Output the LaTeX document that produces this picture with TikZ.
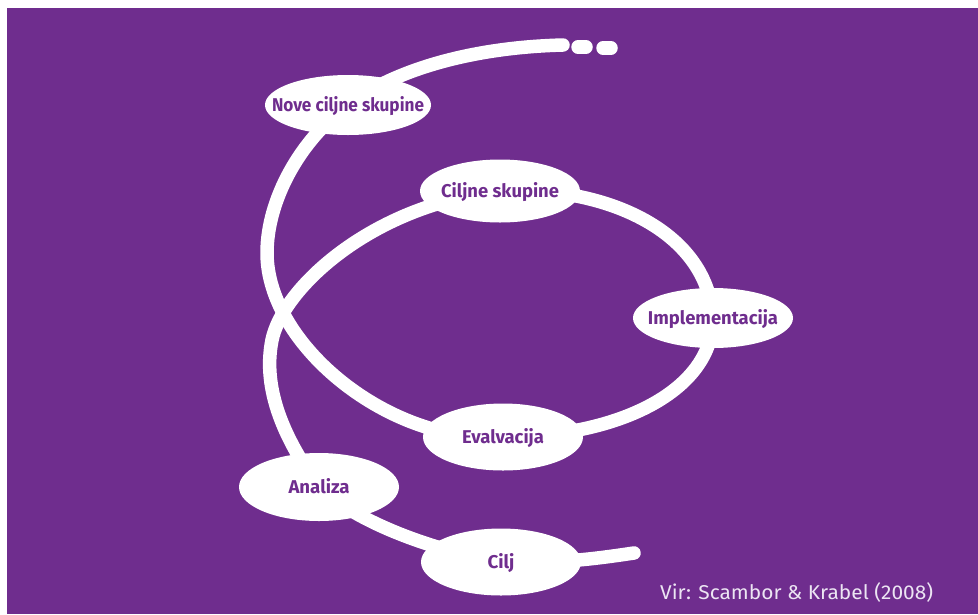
\documentclass[tikz,border=0pt]{standalone}
\usepackage{fontspec}
\setmainfont{Fira Sans}
\usetikzlibrary{shapes.geometric}
\definecolor{vio}{RGB}{111,45,142}
\definecolor{srccol}{RGB}{236,229,243}
\pgfdeclarelayer{bgfill}
\pgfdeclarelayer{curves}
\pgfsetlayers{bgfill,curves,main}
\newcommand{\lbl}[2]{\makebox[0pt]{\raisebox{-6.5pt}[0pt][0pt]{\resizebox{#1pt}{\height}{\fontsize{18.5}{20}\selectfont\bfseries #2}}}}
\begin{document}
\begin{tikzpicture}[x=1pt,y=-1pt,
  bubble/.style={ellipse, fill=white, inner sep=0pt, minimum width=160pt, minimum height=64pt, text=vio},
  spiral/.style={draw=white, line width=13.5pt, line cap=round, line join=round}]
\useasboundingbox (0,0) rectangle (978,614);
\node[bubble, minimum width=166pt, minimum height=60pt] (nove) at (348,105) {\lbl{152}{Nove ciljne skupine}};
\node[bubble, minimum height=63pt] (ciljne) at (500,191) {\lbl{118}{Ciljne skupine}};
\node[bubble, minimum height=60pt] (impl) at (713,318) {\lbl{130}{Implementacija}};
\node[bubble, minimum height=67pt] (eval) at (503,437) {\lbl{82}{Evalvacija}};
\node[bubble, minimum height=68pt] (analiza) at (319,487) {\lbl{61}{Analiza}};
\node[bubble, minimum height=67pt] (cilj) at (501,562) {\lbl{27}{Cilj}};
\coordinate (tail) at (634,553);
\coordinate (open) at (563,45);
\coordinate (cross1) at (272,340);
\coordinate (cross2) at (267,253);
\begin{pgfonlayer}{bgfill}
\fill[vio] (7,8) rectangle (978,614);
\end{pgfonlayer}
\begin{pgfonlayer}{curves}
\draw[spiral] (cilj.center) .. controls (560,564) and (600,558) .. (tail);
\draw[spiral] (cilj.center) .. controls (440,552) and (360,525) .. (analiza.center);
\draw[spiral] (analiza.center) .. controls (285,440) and (262,390) .. (cross1)
  .. controls (282,290) and (370,205) .. (ciljne.center);
\draw[spiral] (ciljne.center) .. controls (600,185) and (707,228) .. (impl.center);
\draw[spiral] (impl.center) .. controls (713,390) and (620,437) .. (eval.center);
\draw[spiral] (eval.center) .. controls (390,445) and (267,345) .. (cross2)
  .. controls (267,200) and (300,140) .. (nove.center);
\draw[spiral] (nove.center) .. controls (380,80) and (450,48) .. (open);
\draw[spiral] (578,47) -- (586,47);
\draw[spiral] (603,48) -- (611,48);
\end{pgfonlayer}
\node[anchor=base west, inner sep=0pt, text=srccol] (src) at (660,599) {\resizebox{273pt}{\height}{\fontsize{20}{22}\selectfont Vir: Scambor \& Krabel (2008)}};
\end{tikzpicture}
\end{document}
